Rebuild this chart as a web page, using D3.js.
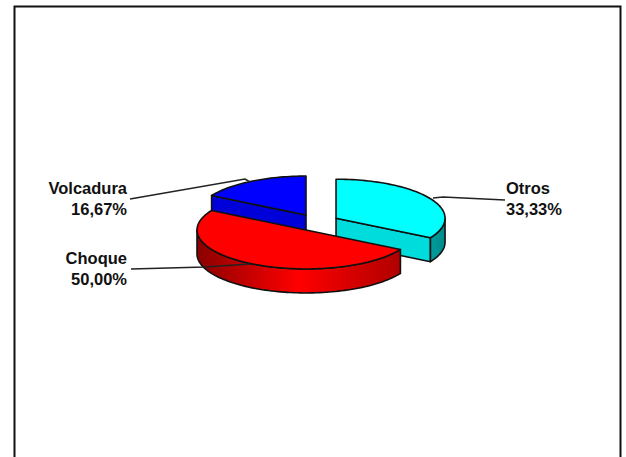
<!DOCTYPE html>
<html><head><meta charset="utf-8">
<script src="https://cdnjs.cloudflare.com/ajax/libs/d3/7.8.5/d3.min.js"></script>
<style>html,body{margin:0;padding:0;background:#fff;overflow:hidden}svg{display:block}</style>
</head><body><svg id="c" width="626" height="457"></svg>
<script>
const categories = ["Otros", "Choque", "Volcadura"];
const values = [33.33, 50.00, 16.67];
const percentLabels = ["33,33%", "50,00%", "16,67%"];
const topColors = ["#00ffff", "#ff0000", "#0000ff"];
const edgeColors = ["#00dcdc", "#c80000", "#0000d8"];
const wallStops = [["#008b8b", "#009c9c"], ["#8b0000", "#ff0000", "#b00000"], ["#00008b", "#0000ff"]];
const labelX = [506, 127, 127];
const labelAnchor = ["start", "end", "end"];
const labelY = [194, 264, 194];
const leaders = [
  [[505,200],[443,197],[433,198]],
  [[131,269],[205,267],[250,264]],
  [[130,199],[245,179],[250,182]]
];

const W=626,H=457, cx=317, cy=222.5, rx=109, ry=39, depth=24, ex=22, ey=8.6;
const svg=d3.select("#c");
svg.append("rect").attr("width",W).attr("height",H).attr("fill","#fff");
svg.append("path").attr("d","M14.5,460V6.5H620.5V460").attr("fill","none").attr("stroke","#111").attr("stroke-width",2);

const pie=d3.pie().sort(null).value(d=>d)(values);
const defs=svg.append("defs");
const line=d3.line();
function pts(a0,a1,ax,ay,dy){
  const n=Math.max(2,Math.ceil(Math.abs(a1-a0)/0.03));
  return d3.range(n+1).map(i=>{const a=a0+(a1-a0)*i/n;return [ax+rx*Math.sin(a),ay-ry*Math.cos(a)+dy];});
}
const slices=pie.map((p,i)=>{
  const mid=(p.startAngle+p.endAngle)/2;
  return {p,i,ax:cx+ex*Math.sin(mid),ay:cy-ey*Math.cos(mid)};
});
const order=[2,0,1];
const stroke="#111", sw=1.6;
order.forEach(k=>{
  const {p,i,ax,ay}=slices[k];
  const g=svg.append("g");
  const wallAngle = p.endAngle<=Math.PI ? p.endAngle : (p.startAngle>Math.PI ? p.startAngle : null);
  if(wallAngle!==null){
    const ex1=[ax+rx*Math.sin(wallAngle),ay-ry*Math.cos(wallAngle)];
    g.append("path").attr("d",line([[ax,ay],ex1,[ex1[0],ex1[1]+depth],[ax,ay+depth]])+"Z")
      .attr("fill",edgeColors[i]).attr("stroke",stroke).attr("stroke-width",sw).attr("stroke-linejoin","round");
  }
  const a0=Math.max(p.startAngle,Math.PI/2), a1=Math.min(p.endAngle,Math.PI*1.5);
  if(a1>a0){
    const id="w"+i;
    const top=pts(a0,a1,ax,ay,0), bot=pts(a1,a0,ax,ay,depth);
    const xs=top.map(d=>d[0]);
    const grad=defs.append("linearGradient").attr("id",id).attr("gradientUnits","userSpaceOnUse")
      .attr("x1",d3.min(xs)).attr("x2",d3.max(xs)).attr("y1",0).attr("y2",0);
    const st=i===0?wallStops[i].slice().reverse():wallStops[i];
    st.forEach((c,j)=>grad.append("stop").attr("offset",j/(st.length-1)).attr("stop-color",c));
    g.append("path").attr("d",line(top.concat(bot))+"Z").attr("fill",`url(#${id})`)
      .attr("stroke",stroke).attr("stroke-width",sw).attr("stroke-linejoin","round");
  }
  g.append("path").attr("d",line([[ax,ay]].concat(pts(p.startAngle,p.endAngle,ax,ay,0)))+"Z")
    .attr("fill",topColors[i]).attr("stroke",stroke).attr("stroke-width",sw).attr("stroke-linejoin","round");
});

leaders.forEach(l=>svg.append("path").attr("d",line(l)).attr("fill","none").attr("stroke","#222").attr("stroke-width",1.5));

categories.forEach((c,i)=>{
  const t=svg.append("text").attr("font-family","'Liberation Sans',Arial,sans-serif").attr("font-weight","bold")
    .attr("font-size",16.5).attr("fill","#111").attr("text-anchor",labelAnchor[i]).attr("transform",`translate(${labelX[i]},${labelY[i]})`);
  t.append("tspan").attr("x",0).attr("y",0).text(c);
  t.append("tspan").attr("x",0).attr("y",20.5).text(percentLabels[i]);
});
</script></body></html>
